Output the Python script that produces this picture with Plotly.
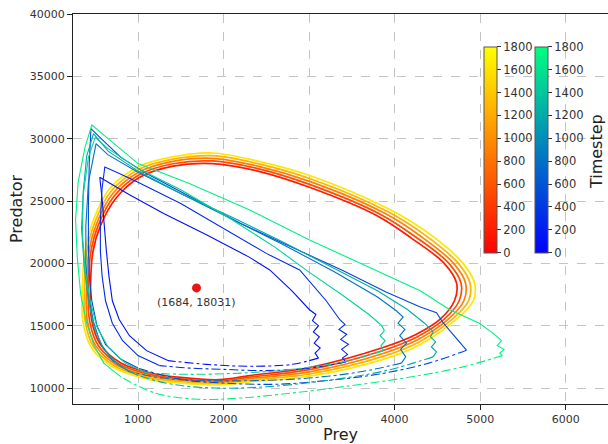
import plotly.graph_objects as go
from plotly.colors import sample_colorscale

# ---------------- data ----------------
timestep_ticks = [0, 200, 400, 600, 800, 1000, 1200, 1400, 1600, 1800]
x_ticks = [1000, 2000, 3000, 4000, 5000, 6000]
y_ticks = [10000, 15000, 20000, 25000, 30000, 35000, 40000]

# deterministic limit-cycle loops (inner = early, outer = late)
det_t = [180, 540, 900, 1260, 1620]
det_l1_prey = [1955, 2305, 3005, 3865, 4250, 4530, 4700, 4725, 4580, 4200, 3800, 3005, 2400, 1870, 1410, 1020, 740, 560, 471, 445, 458, 560, 800, 1138, 1500, 1955]
det_l1_pred = [10670, 11000, 11650, 13250, 14300, 15500, 17000, 18400, 20000, 22000, 23800, 26100, 27400, 28000, 27800, 26900, 25200, 23000, 20850, 18000, 15470, 13500, 12000, 11230, 10850, 10670]
det_l2_prey = [1955, 2305, 3005, 3865, 4262, 4577, 4755, 4777, 4635, 4255, 3837, 3005, 2400, 1870, 1410, 1020, 722, 540, 447, 421, 432, 532, 775, 1138, 1500, 1955]
det_l2_pred = [10567, 10875, 11475, 13012, 14100, 15500, 17000, 18400, 20000, 22075, 23925, 26337, 27600, 28212, 27987, 27125, 25400, 23125, 20850, 18000, 15470, 13450, 11925, 11090, 10737, 10567]
det_l3_prey = [1955, 2305, 3005, 3865, 4275, 4625, 4810, 4830, 4690, 4310, 3875, 3005, 2400, 1870, 1410, 1020, 705, 520, 424, 398, 406, 505, 750, 1138, 1500, 1955]
det_l3_pred = [10465, 10750, 11300, 12775, 13900, 15500, 17000, 18400, 20000, 22150, 24050, 26575, 27800, 28425, 28175, 27350, 25600, 23250, 20850, 18000, 15470, 13400, 11850, 10950, 10625, 10465]
det_l4_prey = [1955, 2305, 3005, 3865, 4287, 4672, 4865, 4882, 4745, 4365, 3912, 3005, 2400, 1870, 1410, 1020, 687, 500, 400, 374, 380, 477, 725, 1138, 1500, 1955]
det_l4_pred = [10362, 10625, 11125, 12537, 13700, 15500, 17000, 18400, 20000, 22225, 24175, 26812, 28000, 28637, 28362, 27575, 25800, 23375, 20850, 18000, 15470, 13350, 11775, 10810, 10512, 10362]
det_l5_prey = [1955, 2305, 3005, 3865, 4300, 4720, 4920, 4935, 4800, 4420, 3950, 3005, 2400, 1870, 1410, 1020, 670, 480, 377, 350, 354, 450, 700, 1138, 1500, 1955]
det_l5_pred = [10260, 10500, 10950, 12300, 13500, 15500, 17000, 18400, 20000, 22300, 24300, 27050, 28200, 28850, 28550, 27800, 26000, 23500, 20850, 18000, 15470, 13300, 11700, 10670, 10400, 10260]

# stochastic run: loops (solid part + sparse/dotted return part)
stoch_t = [100, 300, 500, 800, 1200, 1500, 1700]

s1_prey = [1350, 1100, 900, 780, 700, 660, 630, 610, 580, 553, 700, 900, 1300, 1800, 2300, 2540, 2800, 3005, 3080, 3040, 3110, 3050, 3120, 3060, 3130, 3070, 3110]
s1_pred = [12200, 13000, 14200, 15500, 17000, 19000, 21000, 23000, 25200, 26900, 26300, 25500, 24000, 22300, 20500, 19470, 17800, 16280, 15900, 15400, 15000, 14500, 14100, 13600, 13200, 12800, 12400]
s1_ret_prey = [3110, 2800, 2300, 1800, 1350]
s1_ret_pred = [12400, 11900, 11750, 11900, 12200]

s2_prey = [1250, 1000, 820, 700, 620, 580, 560, 560, 580, 612, 750, 1000, 1500, 2000, 2500, 2890, 3200, 3360, 3420, 3350, 3440, 3370, 3460, 3380, 3450, 3390, 3430]
s2_pred = [11800, 12600, 13800, 15200, 17000, 19000, 21000, 23500, 26000, 27730, 27300, 26500, 24800, 22800, 20800, 19470, 17000, 15480, 15100, 14700, 14300, 13900, 13500, 13100, 12700, 12400, 12100]
s2_ret_prey = [3430, 3000, 2500, 2000, 1600, 1250]
s2_ret_pred = [12100, 11600, 11400, 11500, 11600, 11800]

s3_prey = [1000, 800, 620, 520, 460, 430, 420, 420, 430, 450, 600, 800, 1100, 1600, 2200, 2800, 3400, 3900, 4300, 4490, 4560, 4640, 4740, 4840]
s3_pred = [11600, 12300, 13500, 15000, 17000, 19000, 21500, 24500, 28000, 30800, 29800, 28500, 27200, 25400, 23200, 21300, 19400, 17700, 16500, 16040, 15300, 14640, 13800, 13040]
s3_ret_prey = [4840, 4400, 3800, 3200, 2600, 2000, 1500, 1000]
s3_ret_pred = [13040, 12000, 11100, 10600, 10300, 10400, 10700, 11600]

s4_prey = [900, 700, 560, 480, 420, 390, 390, 420, 510, 650, 1000, 1500, 2100, 2700, 3300, 3800, 4020, 4100, 4040, 4120, 4060, 4140, 4070, 4130, 4080]
s4_pred = [11300, 12200, 13600, 15300, 17500, 20000, 23000, 26500, 29600, 28700, 27300, 25600, 23600, 21500, 19300, 17300, 16200, 15700, 15200, 14700, 14200, 13600, 13100, 12500, 12000]
s4_ret_prey = [4080, 3600, 3000, 2400, 1800, 1300, 900]
s4_ret_pred = [12000, 11300, 10800, 10600, 10600, 10800, 11300]

s5_prey = [1000, 780, 600, 490, 420, 370, 340, 360, 400, 480, 650, 1000, 1500, 2100, 2700, 3300, 3800, 4150, 4350, 4450, 4420, 4480, 4430, 4490, 4450]
s5_pred = [11000, 11800, 13100, 14800, 17000, 19800, 22800, 25800, 28600, 30400, 29000, 27400, 25600, 23700, 21700, 19600, 17800, 16300, 15200, 14500, 14100, 13700, 13300, 12900, 12500]
s5_ret_prey = [4450, 3900, 3200, 2500, 1900, 1400, 1000]
s5_ret_pred = [12500, 11400, 10600, 10100, 10000, 10300, 11000]

s6_prey = [1100, 850, 650, 520, 440, 380, 350, 360, 420, 500, 650, 1000, 1500, 2100, 2600, 3000, 3400, 3700, 3850, 3880, 3830, 3890, 3840, 3870]
s6_pred = [11200, 12000, 13300, 14900, 17000, 19500, 22500, 25500, 28500, 30100, 29200, 27600, 25900, 23500, 21300, 19300, 17400, 15900, 15000, 14600, 14200, 13800, 13400, 13000]
s6_ret_prey = [3870, 3400, 2800, 2200, 1600, 1100]
s6_ret_pred = [13000, 12100, 11500, 11200, 11100, 11200]

s7_prey = [800, 600, 480, 400, 330, 290, 270, 300, 380, 460, 650, 1000, 1600, 2300, 3000, 3700, 4300, 4645, 4990, 5150, 5250, 5200, 5280, 5230, 5260]
s7_pred = [10900, 12000, 13500, 15200, 17500, 20500, 23500, 26500, 29300, 31100, 30000, 28000, 26400, 24300, 21900, 19700, 17800, 16280, 15200, 14400, 13800, 13400, 13100, 12800, 12600]
s7_ret_prey = [5260, 4800, 4200, 3500, 2800, 2200, 1700, 1200, 800]
s7_ret_pred = [12600, 11700, 10900, 10200, 9600, 9200, 9100, 9600, 10900]

center_prey = [1684]
center_pred = [18031]
center_label = "(1684, 18031)"

# ---------------- figure ----------------
autumn = [[0, "rgb(255,0,0)"], [1, "rgb(255,255,0)"]]
winter = [[0, "rgb(0,0,255)"], [1, "rgb(0,255,128)"]]
FONT = "DejaVu Sans"


def cval(scale, t):
    return sample_colorscale(scale, [t / 1800])[0]


fig = go.Figure()

det_loops = [(det_l1_prey, det_l1_pred), (det_l2_prey, det_l2_pred), (det_l3_prey, det_l3_pred),
             (det_l4_prey, det_l4_pred), (det_l5_prey, det_l5_pred)]
for t, (dx, dy) in zip(det_t, det_loops):
    fig.add_trace(go.Scatter(x=dx, y=dy, mode="lines",
                             line=dict(color=cval(autumn, t), width=1.7, shape="spline"),
                             showlegend=False, hoverinfo="skip"))

stoch_solid = [(s1_prey, s1_pred), (s2_prey, s2_pred), (s3_prey, s3_pred), (s4_prey, s4_pred),
               (s5_prey, s5_pred), (s6_prey, s6_pred), (s7_prey, s7_pred)]
stoch_ret = [(s1_ret_prey, s1_ret_pred), (s2_ret_prey, s2_ret_pred), (s3_ret_prey, s3_ret_pred),
             (s4_ret_prey, s4_ret_pred), (s5_ret_prey, s5_ret_pred), (s6_ret_prey, s6_ret_pred),
             (s7_ret_prey, s7_ret_pred)]
for t, (sx, sy), (rx, ry) in zip(stoch_t, stoch_solid, stoch_ret):
    c = cval(winter, t)
    fig.add_trace(go.Scatter(x=sx, y=sy, mode="lines", line=dict(color=c, width=1.1),
                             showlegend=False, hoverinfo="skip"))
    fig.add_trace(go.Scatter(x=rx, y=ry, mode="lines",
                             line=dict(color=c, width=1.1, dash="dashdot", shape="spline"),
                             showlegend=False, hoverinfo="skip"))

fig.add_trace(go.Scatter(x=center_prey, y=center_pred, mode="markers",
                         marker=dict(color="rgb(235,20,20)", size=9), showlegend=False))
fig.add_annotation(x=center_prey[0], y=center_pred[0], text=center_label, showarrow=False,
                   yshift=-15, font=dict(size=11, color="#333", family=FONT))

cb_common = dict(lenmode="fraction", len=0.528, y=0.652, yanchor="middle", thickness=13,
                 xanchor="left", xpad=0, ypad=0, outlinewidth=1, outlinecolor="#555",
                 tickmode="array", tickvals=timestep_ticks, ticks="outside", ticklen=4,
                 tickcolor="#333", tickfont=dict(size=11.5, color="#333", family=FONT))

fig.add_trace(go.Scatter(x=[None], y=[None], mode="markers", showlegend=False,
                         marker=dict(color=[0, 1800], cmin=0, cmax=1800, colorscale=autumn, showscale=True,
                                     colorbar=dict(x=0.768, **cb_common))))
fig.add_trace(go.Scatter(x=[None], y=[None], mode="markers", showlegend=False,
                         marker=dict(color=[0, 1800], cmin=0, cmax=1800, colorscale=winter, showscale=True,
                                     colorbar=dict(x=0.864, **cb_common))))
fig.add_annotation(x=0.9776, y=0.646, xref="paper", yref="paper", text="Timestep", textangle=-90,
                   xanchor="center", yanchor="middle",
                   showarrow=False, font=dict(size=16, color="#222", family=FONT))

axis_common = dict(showline=True, linecolor="#222", linewidth=1.2, ticks="outside", ticklen=5,
                   tickcolor="#222", showgrid=True, gridcolor="#c4c4c4", griddash="dash", gridwidth=1,
                   zeroline=False, tickfont=dict(size=11, color="#333", family=FONT),
                   tickformat="d", automargin=False)

fig.update_layout(
    width=608, height=444,
    margin=dict(l=73, r=0, t=14, b=40),
    plot_bgcolor="white", paper_bgcolor="white",
    font=dict(family=FONT),
    xaxis=dict(range=[240, 6495], tickvals=x_ticks, mirror=True,
               title=dict(text="Prey", font=dict(size=16, color="#222"), standoff=6), **axis_common),
    yaxis=dict(range=[8720, 40000], tickvals=y_ticks,
               title=dict(text="Predator", font=dict(size=16, color="#222"), standoff=3), **axis_common),
)

fig.write_html("out.html", config={"displayModeBar": False},
               post_script="document.body.style.margin='0';document.body.style.overflow='hidden';")
